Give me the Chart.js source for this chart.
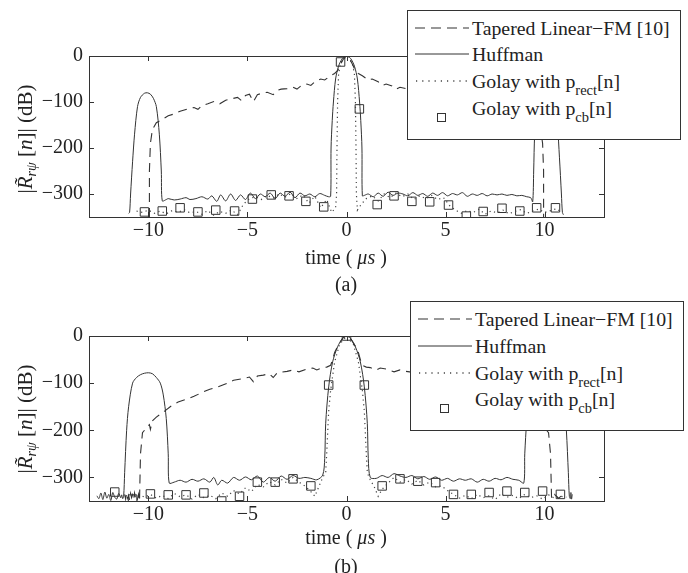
<!DOCTYPE html>
<html>
<head>
<meta charset="utf-8">
<script src="https://cdn.jsdelivr.net/npm/chart.js@4.4.0/dist/chart.umd.min.js"></script>
<style>
  body { margin: 0; background: #fff; }
  #page { position: relative; width: 688px; height: 573px; font-family: "Liberation Serif", "Times New Roman", serif; color: #222; }
  canvas { position: absolute; left: 0; }
  .lbl { position: absolute; width: 200px; height: 22px; line-height: 22px; font-size: 20px; text-align: center; white-space: nowrap; }
  .ylbl { position: absolute; width: 200px; height: 24px; line-height: 24px; font-size: 21px; text-align: center; white-space: nowrap; transform: rotate(-90deg); }
  .ylbl sub { font-size: 14px; vertical-align: -4px; }
  .legend { position: absolute; background: #fff; border: 1px solid #333; box-sizing: border-box; z-index: 2; }
  .row { position: absolute; left: 0; right: 0; height: 26px; }
  .row svg { position: absolute; top: 0; }
  .row span { position: absolute; top: 0; line-height: 26px; font-size: 19.8px; white-space: nowrap; }
  .row sub { font-size: 14.5px; vertical-align: -7px; line-height: 0; }
</style>
</head>
<body>
<div id="page">
  <canvas id="chartA" width="688" height="290" style="top:0"></canvas>
  <canvas id="chartB" width="688" height="283" style="top:290px"></canvas>

  <div class="ylbl" style="left:-75px; top:127px">|<i>R&#771;</i><sub><i>r&psi;</i></sub> [<i>n</i>]| (dB)</div>
  <div class="lbl" style="left:246px; top:246px">time ( <i>&mu;s</i> )</div>
  <div class="lbl" style="left:246px; top:273px">(a)</div>

  <div class="ylbl" style="left:-75px; top:407px">|<i>R&#771;</i><sub><i>r&psi;</i></sub> [<i>n</i>]| (dB)</div>
  <div class="lbl" style="left:246px; top:526px">time ( <i>&mu;s</i> )</div>
  <div class="lbl" style="left:246px; top:555px">(b)</div>

  <div class="legend" id="legendA" style="left:407px; top:10px; width:274px; height:130px"></div>
  <div class="legend" id="legendB" style="left:410px; top:301px; width:274px; height:130px"></div>
</div>

<script>
// ---- panel (a) ----
const hufA_t = [-11.0, -10.95, -10.9, -10.8, -10.7, -10.55, -10.4, -10.2, -10.05, -9.9,
  -9.75, -9.6, -9.45, -9.35, -9.3, -9.1, -9.0, -8.7, -8.4, -8.1,
  -7.9, -7.6, -7.3, -7.0, -6.8, -6.55, -6.35, -6.1, -5.85, -5.6,
  -5.35, -5.1, -4.85, -4.6, -4.35, -4.1, -3.85, -3.6, -3.35, -3.1,
  -2.85, -2.6, -2.35, -2.1, -1.85, -1.6, -1.35, -1.1, -0.9, -0.8,
  -0.78, -0.72, -0.66, -0.55, -0.4, -0.2, 0, 0.2, 0.4, 0.55,
  0.66, 0.72, 0.78, 0.8, 0.9, 1.1, 1.35, 1.6, 1.85, 2.1,
  2.35, 2.6, 2.85, 3.1, 3.35, 3.6, 3.85, 4.1, 4.35, 4.6,
  4.85, 5.1, 5.35, 5.6, 5.85, 6.1, 6.35, 6.6, 6.85, 7.1,
  7.35, 7.6, 7.85, 8.1, 8.35, 8.6, 8.85, 9.1, 9.3, 9.4,
  9.45, 9.5, 9.6, 9.75, 9.95, 10.1, 10.25, 10.4, 10.55, 10.65,
  10.75, 10.85, 10.9, 10.95];
const hufA_v = [-342, -340, -300, -230, -170, -110, -90, -81, -80, -83,
  -92, -110, -170, -250, -315, -312, -310, -313, -311, -308,
  -312, -310, -306, -311, -304, -316, -302, -315, -300, -314,
  -302, -312, -298, -310, -300, -306, -298, -310, -298, -305,
  -296, -308, -298, -304, -300, -306, -299, -303, -306, -305,
  -200, -140, -100, -50, -22, -5, 0, -5, -22, -50,
  -100, -140, -200, -304, -303, -300, -306, -298, -305, -296,
  -303, -298, -300, -304, -297, -303, -299, -305, -298, -303,
  -297, -304, -299, -302, -297, -305, -300, -303, -299, -304,
  -300, -302, -300, -303, -301, -304, -303, -306, -308, -317,
  -250, -170, -120, -95, -81, -79, -82, -95, -120, -150,
  -220, -300, -340, -345];

const lfmA_t = [-9.95, -9.95, -9.9, -9.8, -9.6, -9.3, -9.0, -8.7, -8.4, -8.0,
  -7.7, -7.5, -7.3, -7.0, -6.7, -6.4, -6.1, -5.8, -5.5, -5.3,
  -5.1, -4.9, -4.7, -4.5, -4.2, -4.0, -3.7, -3.5, -3.3, -3.0,
  -2.7, -2.5, -2.3, -2.0, -1.8, -1.6, -1.3, -1.1, -0.8, -0.6,
  -0.45, -0.3, -0.15, 0, 0.15, 0.3, 0.45, 0.6, 0.8, 1.1,
  1.3, 1.6, 1.8, 2.0, 2.3, 2.5, 2.7, 3.0, 3.3, 3.5,
  3.7, 4.0, 4.2, 4.5, 4.7, 4.9, 5.1, 5.3, 5.5, 5.8,
  6.1, 6.4, 6.7, 7.0, 7.3, 7.5, 7.7, 8.0, 8.4, 8.7,
  9.0, 9.3, 9.6, 9.8, 9.9, 9.95, 9.95];
const lfmA_v = [-350, -250, -190, -160, -145, -138, -130, -126, -120, -115,
  -112, -116, -108, -104, -99, -104, -96, -93, -90, -97,
  -86, -83, -99, -84, -80, -79, -84, -75, -72, -71,
  -68, -72, -65, -61, -64, -56, -50, -52, -43, -38,
  -32, -18, -6, 0, -6, -18, -32, -38, -43, -52,
  -50, -56, -64, -61, -65, -72, -68, -71, -72, -75,
  -84, -79, -80, -84, -99, -83, -86, -97, -90, -93,
  -96, -104, -99, -104, -108, -116, -112, -115, -120, -126,
  -130, -138, -145, -160, -190, -250, -350];

const rectA_t = [-10.6, -10.3, -10.0, -9.7, -9.4, -9.1, -8.8, -8.5, -8.2, -7.9,
  -7.6, -7.3, -7.0, -6.7, -6.4, -6.1, -5.8, -5.5, -5.2, -4.9,
  -4.6, -4.3, -4.0, -3.7, -3.4, -3.1, -2.8, -2.5, -2.2, -1.9,
  -1.6, -1.3, -1.0, -0.75, -0.55, -0.5, -0.48, -0.45, -0.4, -0.3,
  0, 0.3, 0.4, 0.45, 0.48, 0.5, 0.55, 0.75, 1.0, 1.3,
  1.6, 1.9, 2.2, 2.5, 2.8, 3.1, 3.4, 3.7, 4.0, 4.3,
  4.6, 4.9, 5.2, 5.5, 5.8, 6.1, 6.4, 6.7, 7.0, 7.3,
  7.6, 7.9, 8.2, 8.5, 8.8, 9.1, 9.4, 9.7, 10.0, 10.3,
  10.6, 10.8];
const rectA_v = [-337, -340, -335, -342, -337, -343, -336, -340, -334, -341,
  -338, -344, -336, -346, -338, -342, -335, -345, -322, -310,
  -306, -312, -303, -309, -300, -307, -299, -310, -302, -320,
  -305, -330, -312, -340, -330, -300, -200, -100, -40, -15,
  0, -15, -40, -100, -200, -300, -335, -322, -310, -304,
  -315, -300, -308, -298, -306, -300, -312, -304, -310, -303,
  -312, -308, -325, -335, -342, -336, -340, -333, -344, -337,
  -341, -335, -343, -338, -334, -342, -337, -333, -340, -336,
  -332, -338];

const cbA_t = [-10.2, -9.3, -8.4, -7.5, -6.6, -5.65, -4.75, -3.8, -2.9, -2.05, -1.15, -0.3,
  0.65, 1.55, 2.4, 3.3, 4.2, 5.15, 6.05, 6.9, 7.85, 8.75, 9.6, 10.55];
const cbA_v = [-339, -337, -330, -339, -335, -337, -311, -302, -304, -316, -328, -13,
  -115, -323, -304, -316, -317, -324, -348, -338, -331, -337, -330, -330];

// ---- panel (b) ----
const hufB_t = [-12.6, -12.5, -12.4, -12.3, -12.2, -12.1, -12.0, -11.9, -11.8, -11.7,
  -11.6, -11.5, -11.4, -11.35,
  -11.3, -11.25, -11.2, -11.1, -11.0, -10.8, -10.6, -10.4, -10.2, -10.0,
  -9.8, -9.6, -9.4, -9.25, -9.1, -9.0, -8.95, -8.7, -8.4, -8.1,
  -7.8, -7.5, -7.2, -6.9, -6.7, -6.5, -6.3, -6.0, -5.7, -5.4,
  -5.1, -4.8, -4.5, -4.2, -3.9, -3.6, -3.3, -3.0, -2.7, -2.4,
  -2.1, -1.8, -1.5, -1.2, -1.1, -1.05, -0.9, -0.7, -0.45, -0.2,
  0, 0.2, 0.45, 0.7, 0.9, 1.05, 1.1, 1.2, 1.5, 1.8,
  2.1, 2.4, 2.7, 3.0, 3.3, 3.6, 3.9, 4.2, 4.5, 4.8,
  5.1, 5.4, 5.7, 6.0, 6.3, 6.6, 6.9, 7.2, 7.5, 7.8,
  8.1, 8.4, 8.7, 8.95, 9.0, 9.1, 9.25, 9.4, 9.6, 9.8,
  10.0, 10.2, 10.4, 10.6, 10.8, 11.0, 11.1, 11.2, 11.25, 11.3,
  11.33, 11.36, 11.4];
const hufB_v = [-339, -345, -333, -347, -331, -344, -336, -349, -332, -342,
  -346, -334, -343, -337,
  -345, -340, -290, -200, -150, -100, -88, -82, -79, -78,
  -80, -88, -100, -125, -175, -250, -312, -310, -306, -310,
  -304, -308, -303, -310, -300, -316, -306, -312, -300, -306,
  -299, -305, -297, -310, -300, -308, -297, -304, -296, -302,
  -300, -302, -305, -295, -260, -185, -108, -55, -23, -5,
  0, -5, -23, -55, -108, -185, -260, -300, -302, -296,
  -300, -292, -297, -300, -296, -303, -298, -304, -299, -306,
  -302, -308, -303, -306, -303, -310, -304, -308, -302, -305,
  -300, -304, -306, -312, -250, -180, -125, -100, -88, -80,
  -78, -79, -82, -88, -100, -150, -200, -290, -340, -345,
  -332, -346, -336];

const lfmB_t = [-11.2, -11.15, -11.1, -11.05, -11.0, -10.95, -10.9, -10.85, -10.8, -10.75,
  -10.7, -10.65, -10.6, -10.55, -10.5, -10.45, -10.4, -10.3, -10.1, -9.95,
  -9.9, -9.8, -9.6, -9.2, -8.9, -8.5, -8.0, -7.7, -7.2, -6.9,
  -6.5, -6.0, -5.7, -5.2, -4.9, -4.7, -4.5, -4.2, -3.9, -3.7,
  -3.5, -3.0, -2.7, -2.4, -2.0, -1.7, -1.5, -1.2, -1.0, -0.8,
  -0.7, -0.6, -0.45, -0.2, 0, 0.2, 0.45, 0.6, 0.7, 0.8,
  1.0, 1.2, 1.5, 1.7, 2.0, 2.4, 2.7, 3.0, 3.5, 3.7,
  3.9, 4.2, 4.5, 4.7, 4.9, 5.2, 5.7, 6.0, 6.5, 6.9,
  7.2, 7.7, 8.0, 8.5, 8.9, 9.2, 9.6, 9.8, 9.9, 10.0,
  10.2, 10.3, 10.35, 10.35, 10.5, 10.7, 10.9, 11.1];
const lfmB_v = [-336, -346, -333, -344, -338, -348, -334, -343, -337, -347,
  -333, -344, -339, -346, -336, -350, -250, -205, -195, -188,
  -198, -180, -172, -160, -150, -140, -133, -128, -118, -113,
  -108, -100, -94, -90, -87, -97, -85, -83, -80, -88,
  -78, -75, -72, -76, -70, -68, -72, -67, -66, -62,
  -50, -35, -22, -5, 0, -5, -22, -35, -50, -62,
  -66, -67, -72, -68, -70, -76, -72, -75, -78, -88,
  -80, -83, -85, -97, -87, -90, -94, -100, -108, -113,
  -118, -128, -133, -140, -150, -160, -172, -180, -188, -195,
  -205, -250, -340, -345, -336, -344, -338, -340];

const rectB_t = [-10.5, -10.2, -9.9, -9.6, -9.3, -9.0, -8.7, -8.4, -8.1, -7.8,
  -7.5, -7.2, -6.9, -6.6, -6.3, -6.0, -5.7, -5.4, -5.1, -4.8,
  -4.5, -4.2, -3.9, -3.6, -3.3, -3.0, -2.7, -2.4, -2.1, -1.8,
  -1.6, -1.4, -1.2, -1.05, -1.0, -0.9, -0.8, -0.6, -0.35, 0,
  0.35, 0.6, 0.8, 0.9, 1.0, 1.05, 1.2, 1.4, 1.6, 1.8,
  2.1, 2.4, 2.7, 3.0, 3.3, 3.6, 3.9, 4.2, 4.5, 4.8,
  5.1, 5.4, 5.7, 6.0, 6.3, 6.6, 6.9, 7.2, 7.5, 7.8,
  8.1, 8.4, 8.7, 9.0, 9.3, 9.6, 9.9, 10.2, 10.5, 10.8,
  11.1];
const rectB_v = [-335, -342, -336, -344, -338, -345, -334, -341, -337, -346,
  -336, -343, -338, -345, -333, -340, -328, -335, -322, -330,
  -315, -320, -309, -316, -304, -312, -300, -310, -318, -330,
  -340, -320, -300, -290, -250, -160, -115, -55, -18, 0,
  -18, -55, -115, -160, -250, -290, -305, -320, -340, -325,
  -312, -300, -310, -304, -314, -306, -316, -310, -320, -318,
  -328, -336, -344, -338, -345, -336, -343, -339, -347, -335,
  -342, -338, -345, -336, -343, -339, -346, -337, -344, -340,
  -342];

const cbB_t = [-11.7, -10.8, -9.9, -9.0, -8.1, -7.2, -6.3, -5.4, -4.5, -3.6, -2.7, -1.8, -0.9,
  0, 0.9, 1.8, 2.7, 3.6, 4.5, 5.4, 6.3, 7.2, 8.1, 9.0, 9.9, 10.8];
const cbB_v = [-331, -346, -335, -337, -337, -333, -350, -340, -310, -310, -303, -318, -104,
  0, -104, -318, -303, -308, -311, -336, -336, -332, -329, -332, -329, -336];

// axes
const xTicks = [-10, -5, 0, 5, 10];
const yTicks = [-300, -200, -100, 0];

// legend entries: [main text, subscript, tail]
const legendLabels = [
  ["Tapered Linear\u2212FM [10]", "", ""],
  ["Huffman", "", ""],
  ["Golay with p", "rect", "[n]"],
  ["Golay with p", "cb", "[n]"],
];

const INK = "#333";
const FONT = "'Liberation Serif', 'Times New Roman', serif";

function pts(ts, vs) {
  const n = Math.min(ts.length, vs.length);
  const out = [];
  for (let i = 0; i < n; i++) out.push({ x: ts[i], y: vs[i] });
  return out;
}

function fmt(v) {
  return v < 0 ? "\u2212" + Math.abs(v) : String(v);
}

// Box around the plot with inward tick marks on all four sides
const frame = {
  id: "frame",
  beforeDatasetsDraw(chart) {
    const { ctx, chartArea: a, scales } = chart;
    ctx.save();
    ctx.strokeStyle = INK;
    ctx.lineWidth = 1;
    ctx.strokeRect(Math.round(a.left) + 0.5, Math.round(a.top) + 0.5,
      Math.round(a.right - a.left), Math.round(a.bottom - a.top));
    ctx.beginPath();
    xTicks.forEach((v) => {
      const px = Math.round(scales.x.getPixelForValue(v)) + 0.5;
      ctx.moveTo(px, a.bottom); ctx.lineTo(px, a.bottom - 5);
      ctx.moveTo(px, a.top); ctx.lineTo(px, a.top + 5);
    });
    yTicks.forEach((v) => {
      const py = Math.round(scales.y.getPixelForValue(v)) + 0.5;
      ctx.moveTo(a.left, py); ctx.lineTo(a.left + 5, py);
      ctx.moveTo(a.right, py); ctx.lineTo(a.right - 5, py);
    });
    ctx.stroke();
    ctx.restore();
  },
};

function makeChart(id, padTop, xAxisHeight, lfm, huf, rect, cb) {
  return new Chart(document.getElementById(id).getContext("2d"), {
    type: "scatter",
    data: {
      datasets: [
        { data: lfm, showLine: true, borderColor: INK, borderWidth: 1.1, borderDash: [9, 6], pointRadius: 0, tension: 0 },
        { data: huf, showLine: true, borderColor: INK, borderWidth: 1, pointRadius: 0, tension: 0.3 },
        { data: rect, showLine: true, borderColor: "#444", borderWidth: 1.2, borderDash: [1.2, 3.5], pointRadius: 0, tension: 0 },
        { data: cb, showLine: false, pointStyle: "rect", pointRadius: 6, borderColor: INK, borderWidth: 1, backgroundColor: "rgba(0,0,0,0)" },
      ],
    },
    options: {
      responsive: false,
      animation: false,
      devicePixelRatio: 1,
      layout: { padding: { top: padTop, right: 84, left: 0, bottom: 0 } },
      plugins: { legend: { display: false }, tooltip: { enabled: false } },
      scales: {
        x: {
          type: "linear", min: -13, max: 13,
          grid: { display: false, drawTicks: false },
          border: { display: false },
          afterBuildTicks: (s) => { s.ticks = xTicks.map((v) => ({ value: v })); },
          afterFit: (s) => { s.height = xAxisHeight; },
          ticks: { font: { family: FONT, size: 20 }, color: "#222", padding: 2, maxRotation: 0, autoSkip: false, callback: fmt },
        },
        y: {
          type: "linear", min: -350, max: 0,
          grid: { display: false, drawTicks: false },
          border: { display: false },
          afterBuildTicks: (s) => { s.ticks = yTicks.map((v) => ({ value: v })); },
          afterFit: (s) => { s.width = 89; },
          ticks: { font: { family: FONT, size: 20 }, color: "#222", padding: 6, autoSkip: false, callback: fmt },
        },
      },
    },
    plugins: [frame],
  });
}

// HTML legend with line samples
function buildLegend(id, rowTops, sampleLeft, textLeft) {
  const box = document.getElementById(id);
  const samples = [
    '<line x1="0" y1="13" x2="54" y2="13" stroke="' + INK + '" stroke-width="1.1" stroke-dasharray="10 6"/>',
    '<line x1="0" y1="13" x2="54" y2="13" stroke="' + INK + '" stroke-width="1"/>',
    '<line x1="1" y1="13" x2="54" y2="13" stroke="#444" stroke-width="1.3" stroke-dasharray="1.2 5"/>',
    '<rect x="22.5" y="18.5" width="8" height="8" fill="none" stroke="' + INK + '" stroke-width="1"/>',
  ];
  legendLabels.forEach((lab, i) => {
    const row = document.createElement("div");
    row.className = "row";
    row.style.top = rowTops[i] + "px";
    let html = '<svg width="56" height="30" style="left:' + sampleLeft + 'px">' + samples[i] + "</svg>";
    html += '<span style="left:' + textLeft + 'px">' + lab[0];
    if (lab[1]) html += "<sub>" + lab[1] + "</sub>" + lab[2];
    html += "</span>";
    row.innerHTML = html;
    box.appendChild(row);
  });
}

let chartA = makeChart("chartA", 56, 73, pts(lfmA_t, lfmA_v), pts(hufA_t, hufA_v), pts(rectA_t, rectA_v), pts(cbA_t, cbA_v));
let chartB = makeChart("chartB", 46, 72, pts(lfmB_t, lfmB_v), pts(hufB_t, hufB_v), pts(rectB_t, rectB_v), pts(cbB_t, cbB_v));

buildLegend("legendA", [4, 30, 57, 84], 7, 64);
buildLegend("legendB", [4, 31, 58, 84], 7, 64);
</script>
</body>
</html>
